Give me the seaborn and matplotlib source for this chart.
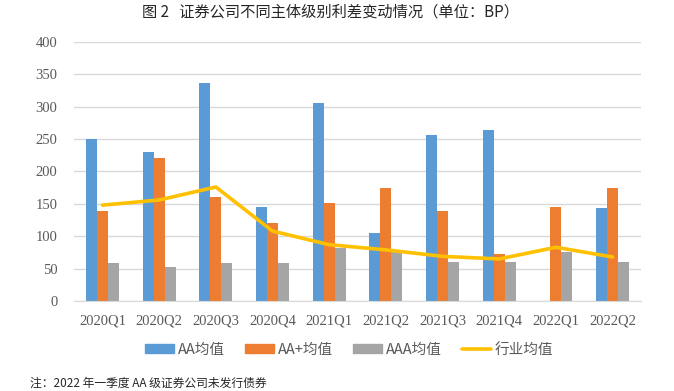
import numpy as np
import pandas as pd
import matplotlib
matplotlib.use("Agg")
import matplotlib.pyplot as plt
import seaborn as sns
from matplotlib.patches import Patch
from matplotlib.lines import Line2D

# Data (BP)
quarters = ["2020Q1", "2020Q2", "2020Q3", "2020Q4", "2021Q1",
            "2021Q2", "2021Q3", "2021Q4", "2022Q1", "2022Q2"]
aa_mean = [250, 230, 336, 145, 306, 105, 257, 264, np.nan, 144]
aa_plus_mean = [139, 220, 160, 120, 151, 174, 139, 73, 145, 174]
aaa_mean = [59, 53, 59, 59, 82, 75, 60, 60, 76, 60]
industry_mean = [148, 156, 176, 108, 87, 79, 69, 65, 83, 68]

series_names = ["AA均值", "AA+均值", "AAA均值"]
line_name = "行业均值"
colors = ["#5B9BD5", "#ED7D31", "#A5A5A5"]
line_color = "#FFC000"

df = pd.DataFrame({
    "quarter": quarters * 3,
    "value": aa_mean + aa_plus_mean + aaa_mean,
    "series": [s for s in series_names for _ in quarters],
})

sns.set_style("white")
plt.rcParams["font.family"] = ["Noto Sans CJK SC", "DejaVu Sans"]

fig = plt.figure(figsize=(6.74, 3.91), dpi=100)
ax = fig.add_axes([0.11, 0.23, 0.841, 0.663])

sns.barplot(data=df, x="quarter", y="value", hue="series", order=quarters,
            hue_order=series_names, palette=colors, width=0.58,
            saturation=1, linewidth=0, ax=ax, legend=False)
sns.pointplot(x=quarters, y=industry_mean, order=quarters, color=line_color,
              markers="", linewidth=2.6, ax=ax)

ax.set_ylim(0, 400)
ax.set_yticks(range(0, 401, 50))
ax.set_xlim(-0.5, len(quarters) - 0.5)
ax.set_xlabel("")
ax.set_ylabel("")
ax.yaxis.grid(True, color="#D9D9D9", linewidth=1)
ax.set_axisbelow(True)
for side in ["top", "right", "left"]:
    ax.spines[side].set_visible(False)
ax.spines["bottom"].set_color("#D9D9D9")
ax.tick_params(length=0, colors="#595959", labelsize=10.5)
for lbl in ax.get_xticklabels() + ax.get_yticklabels():
    lbl.set_family(["Liberation Serif", "DejaVu Serif"])
ax.tick_params(axis="x", pad=10)
ax.tick_params(axis="y", pad=12)

handles = [Patch(color=c) for c in colors] + [Line2D([0], [0], color=line_color, lw=2.6)]
fig.legend(handles, series_names + [line_name], loc="center",
           bbox_to_anchor=(0.518, 0.105), ncol=4, frameon=False, fontsize=10.5,
           handlelength=2.0, handleheight=0.55, handletextpad=0.25,
           columnspacing=1.4, labelcolor="#595959")

fig.text(0.49, 0.968, "图 2   证券公司不同主体级别利差变动情况（单位：BP）",
         ha="center", va="center", fontsize=11)
fig.text(0.045, 0.02, "注：2022 年一季度 AA 级证券公司未发行债券",
         ha="left", va="center", fontsize=8.5)

fig.savefig("out.png", dpi=100)
